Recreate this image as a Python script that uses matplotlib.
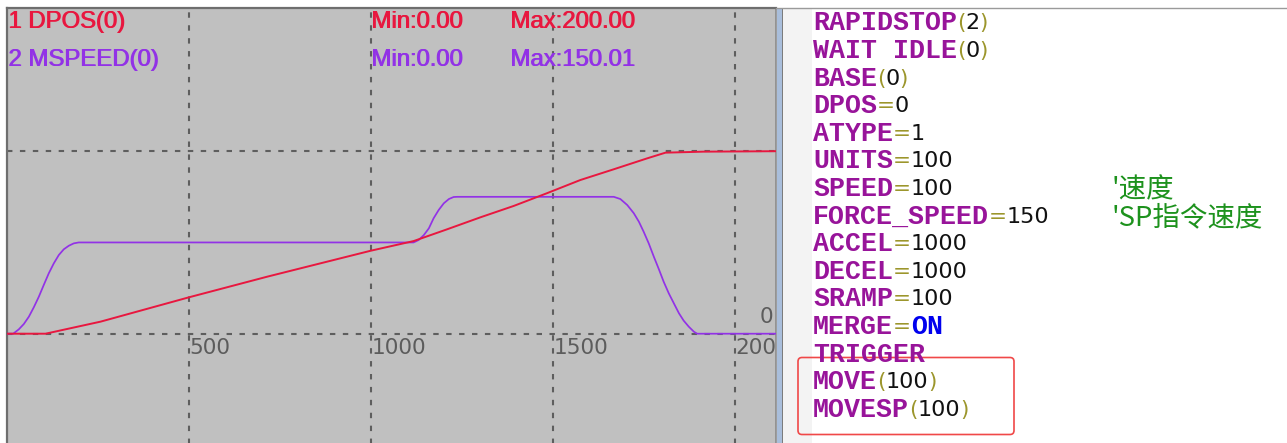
import matplotlib
matplotlib.use("Agg")
import matplotlib.pyplot as plt
from matplotlib.patches import Rectangle, FancyBboxPatch
import matplotlib.transforms as mtransforms

W, H = 1287, 443

# ---------------- data ----------------
dpos_t = [0, 106, 257, 500, 715, 1000, 1117, 1209, 1301, 1392, 1483, 1575,
          1667, 1759, 1809, 1913, 2113]
dpos_v = [0, 0, 13.2, 39.9, 62.5, 91, 101.5, 114.4, 127.6, 140, 153.9, 168.4,
          180.2, 192.2, 198.4, 199.5, 200]

mspeed_t = [0, 17, 32.5, 46.2, 60, 73.6, 87.4, 101, 114.8, 128.6, 142.3, 156,
            169.8, 183.5, 197,
            1117, 1131, 1145, 1159, 1172, 1186, 1200, 1214, 1227, 1237,
            1667, 1685, 1704, 1722, 1736, 1749, 1763, 1777, 1791, 1804, 1818,
            1832, 1846, 1859, 1873, 1887, 1896, 2113]
mspeed_v = [0, 0, 4.8, 10.6, 18.6, 28.9, 40.5, 53.4, 66.2, 77.1, 86.2, 92.5,
            96.4, 99, 100,
            100, 102.7, 108, 115.5, 126.5, 135.6, 142.9, 147.6, 149.8, 150,
            150, 147.6, 141, 132, 122.7, 111.8, 99, 84.4, 70.5, 57, 44.3,
            33.3, 22.4, 14.3, 7.7, 2.2, 0, 0]

x_ticks = [500, 1000, 1500, 2000]
x_tick_labels = ["500", "1000", "1500", "2000"]
y_grid = [0, 200]

channel_names = ["1 DPOS(0)", "2 MSPEED(0)"]
channel_min = ["Min:0.00", "Min:0.00"]
channel_max = ["Max:200.00", "Max:150.01"]

code_lines = [
    [("RAPIDSTOP", "kw"), ("(", "op"), ("2", "num"), (")", "op")],
    [("WAIT IDLE", "kw"), ("(", "op"), ("0", "num"), (")", "op")],
    [("BASE", "kw"), ("(", "op"), ("0", "num"), (")", "op")],
    [("DPOS", "kw"), ("=", "op"), ("0", "num")],
    [("ATYPE", "kw"), ("=", "op"), ("1", "num")],
    [("UNITS", "kw"), ("=", "op"), ("100", "num")],
    [("SPEED", "kw"), ("=", "op"), ("100", "num")],
    [("FORCE_SPEED", "kw"), ("=", "op"), ("150", "num")],
    [("ACCEL", "kw"), ("=", "op"), ("1000", "num")],
    [("DECEL", "kw"), ("=", "op"), ("1000", "num")],
    [("SRAMP", "kw"), ("=", "op"), ("100", "num")],
    [("MERGE", "kw"), ("=", "op"), ("ON", "on")],
    [("TRIGGER", "kw")],
    [("MOVE", "kw"), ("(", "op"), ("100", "num"), (")", "op")],
    [("MOVESP", "kw"), ("(", "op"), ("100", "num"), (")", "op")],
]
comments = {6: "'速度", 7: "'SP指令速度"}

# ---------------- styles ----------------
RED = "#e8173f"
PURPLE = "#9232e6"
GRID = "#5e5e5e"
styles = {
    "kw": dict(family="Liberation Mono", weight="bold", size=19.2, color="#98149a"),
    "on": dict(family="Liberation Mono", weight="bold", size=19.2, color="#0000ee"),
    "op": dict(family="DejaVu Sans", size=15.5, color="#9c962c"),
    "num": dict(family="DejaVu Sans", size=16, color="#111111"),
}

fig = plt.figure(figsize=(W / 100, H / 100), dpi=100, facecolor="white")

# ---------------- oscilloscope axes ----------------
px_l, px_r, px_t, px_b = 7, 776, 8, 460
ax = fig.add_axes([px_l / W, 1 - px_b / H, (px_r - px_l) / W, (px_b - px_t) / H])
ax.set_facecolor("#c0c0c0")
ax.set_xlim(0, (px_r - px_l) / 0.364)
ax.set_ylim(-(px_b - 333.7) / 0.9125, (333.7 - px_t) / 0.9125)
ax.set_xticks(x_ticks)
ax.set_yticks(y_grid)
ax.tick_params(length=0, labelbottom=False, labelleft=False)
ax.grid(True, color=GRID, linestyle=(0, (2.6, 3.6)), linewidth=1.5)
for s in ["left", "top"]:
    ax.spines[s].set_color("#6e6e6e")
    ax.spines[s].set_linewidth(1.6)
ax.spines["right"].set_color("#8a8a8a")
ax.spines["right"].set_linewidth(1.2)
ax.spines["bottom"].set_visible(False)

ax.plot(mspeed_t, mspeed_v, color=PURPLE, lw=1.25, zorder=3)
ax.plot(dpos_t, dpos_v, color=RED, lw=1.4, zorder=4)

lab_tr = mtransforms.offset_copy(ax.transData, fig=fig, x=0.5, y=-14.5, units="dots")
for xt, lab in zip(x_ticks, x_tick_labels):
    ax.text(xt, 0, lab, transform=lab_tr, ha="left", va="center",
            family="DejaVu Sans", size=15.6, color="#5c5c5c", clip_on=True, zorder=5)

# ---------------- overlay in pixel coordinates ----------------
ov = fig.add_axes([0, 0, 1, 1])
ov.set_xlim(0, W)
ov.set_ylim(H, 0)
ov.axis("off")

# channel labels
leg_font = dict(family="Liberation Sans", weight="normal", size=17.2)
for i, (nm, mn, mx) in enumerate(zip(channel_names, channel_min, channel_max)):
    col = RED if i == 0 else PURPLE
    y = 22 + i * 37.5
    for xx, s in ((8, nm), (371, mn), (510, mx)):
        ov.text(xx, y, s, color=col, ha="left", va="center", **leg_font)
        ov.text(xx + 0.6, y, s, color=col, ha="left", va="center", **leg_font)

ov.text(773.5, 317, "0", ha="right", va="center", family="DejaVu Sans",
        size=15.6, color="#5c5c5c")

# splitter
ov.add_patch(Rectangle((777, px_t), 5, H - px_t, facecolor="#a9bedb", edgecolor="none"))
ov.add_patch(Rectangle((782, px_t), 1.3, H - px_t, facecolor="#7c7c7c", edgecolor="none"))
# code panel
ov.add_patch(Rectangle((783.3, px_t), W - 783.3, H - px_t, facecolor="white", edgecolor="none"))
ov.add_patch(Rectangle((783.3, px_t), 29, H - px_t, facecolor="#f3f3f3", edgecolor="none"))
ov.plot([776, W], [px_t, px_t], color="#9a9a9a", lw=1.0)

# red highlight box
ov.add_patch(FancyBboxPatch((798, 357.5), 1014 - 798, 434.5 - 357.5,
                            boxstyle="round,pad=0,rounding_size=4",
                            facecolor="none", edgecolor="#f04848", lw=1.2))

# code text
fig.canvas.draw()
rend = fig.canvas.get_renderer()
for i, segs in enumerate(code_lines):
    y = 23.3 + i * 27.6
    x = 813
    for txt, kind in segs:
        t = ov.text(x, y, txt, ha="left", va="center", **styles[kind])
        bb = t.get_window_extent(renderer=rend)
        x += bb.width
    if i in comments:
        ov.text(1111, y + 1, comments[i], ha="left", va="center",
                family=["Noto Sans CJK SC", "DejaVu Sans"], size=19.8,
                color="#1d921d")

fig.savefig("out.png", dpi=100, facecolor="white")
